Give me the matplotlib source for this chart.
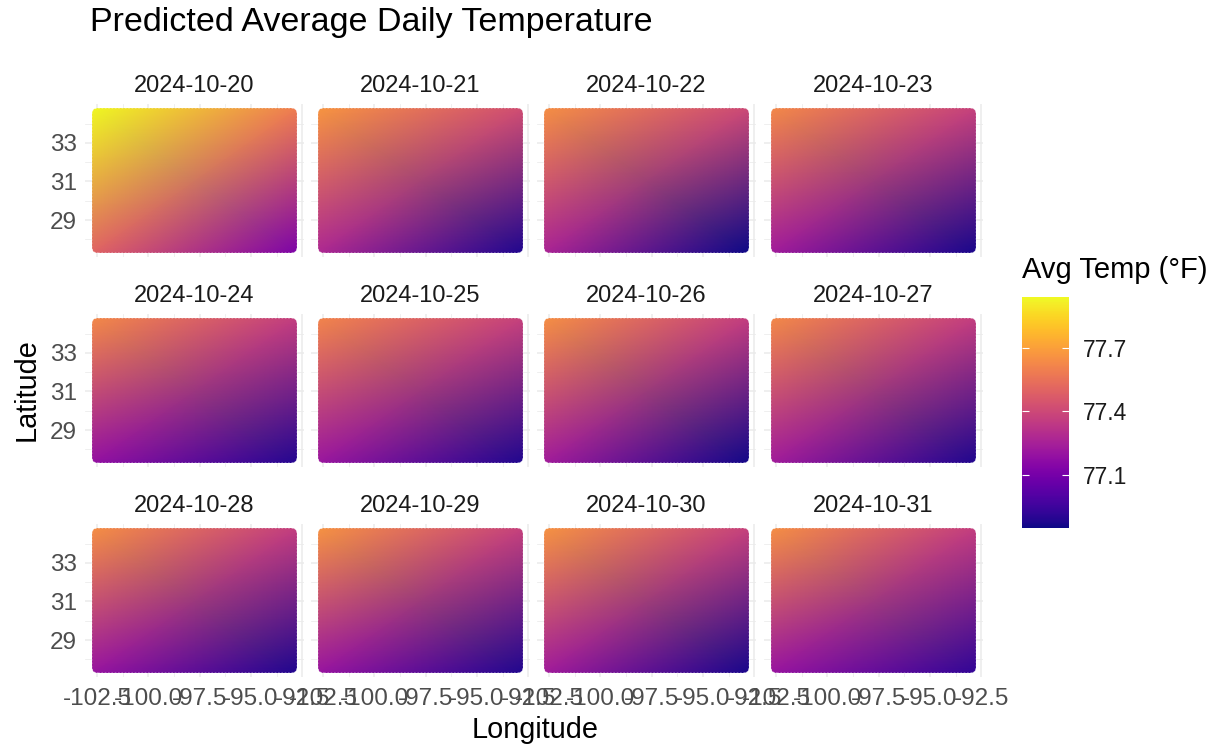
import numpy as np
import matplotlib
matplotlib.use("Agg")
import matplotlib.pyplot as plt
from matplotlib.patches import FancyBboxPatch
from matplotlib.colors import Normalize

plt.rcParams['font.family'] = ['Liberation Sans', 'DejaVu Sans']

# facet labels
dates = ['2024-10-20', '2024-10-21', '2024-10-22', '2024-10-23',
         '2024-10-24', '2024-10-25', '2024-10-26', '2024-10-27',
         '2024-10-28', '2024-10-29', '2024-10-30', '2024-10-31']

# predicted avg temp (F) at the corners of the grid, per day
temp_nw = [77.94, 77.67, 77.65, 77.63, 77.63, 77.62, 77.65, 77.63, 77.65, 77.66, 77.66, 77.65]
temp_ne = [77.59, 77.42, 77.40, 77.37, 77.36, 77.37, 77.36, 77.36, 77.36, 77.37, 77.37, 77.36]
temp_sw = [77.50, 77.28, 77.26, 77.23, 77.19, 77.21, 77.23, 77.23, 77.20, 77.20, 77.23, 77.20]
temp_se = [77.12, 76.88, 76.85, 76.87, 76.89, 76.88, 76.86, 76.88, 76.88, 76.88, 76.87, 76.92]

lon_range = [-102.6, -92.9]
lat_range = [27.45, 34.65]
lon_ticks = [-102.5, -100.0, -97.5, -95.0, -92.5]
lon_minor = [-101.25, -98.75, -96.25, -93.75]
lat_ticks = [29, 31, 33]
lat_minor = [28, 30, 32, 34]
cbar_ticks = [77.1, 77.4, 77.7]
temp_lim = [76.85, 77.94]

W, H = 1222, 749
fig = plt.figure(figsize=(W / 100, H / 100), dpi=100)
fig.patch.set_facecolor('white')


def px_axes(x0, y0, w, h):
    return fig.add_axes([x0 / W, 1 - (y0 + h) / H, w / W, h / H])


col_left = [85, 311, 537, 764]
row_top = [104, 314, 524]
pw, ph = 219, 153
norm = Normalize(temp_lim[0], temp_lim[1])
cmap = plt.get_cmap('plasma')

# 5% expansion like ggplot
dx = 0.05 * (lon_range[1] - lon_range[0])
dy = 0.05 * (lat_range[1] - lat_range[0])
r = 0.15  # point radius in degrees

for i, d in enumerate(dates):
    row, col = divmod(i, 4)
    ax = px_axes(col_left[col], row_top[row], pw, ph)
    ax.set_xlim(lon_range[0] - dx, lon_range[1] + dx)
    ax.set_ylim(lat_range[0] - dy, lat_range[1] + dy)

    X = np.array([[lon_range[0] - r, lon_range[1] + r]] * 2)
    Y = np.array([[lat_range[0] - r] * 2, [lat_range[1] + r] * 2])
    Z = np.array([[temp_sw[i], temp_se[i]], [temp_nw[i], temp_ne[i]]])
    mesh = ax.pcolormesh(X, Y, Z, shading='gouraud', cmap=cmap, norm=norm, zorder=2)

    box = FancyBboxPatch((lon_range[0] - r, lat_range[0] - r),
                         lon_range[1] - lon_range[0] + 2 * r,
                         lat_range[1] - lat_range[0] + 2 * r,
                         boxstyle='round,pad=0,rounding_size=0.3',
                         transform=ax.transData, facecolor='none',
                         edgecolor='white', linewidth=0.6, linestyle=(0, (2, 2)),
                         alpha=0.6, zorder=3)
    ax.add_patch(box)
    mesh.set_clip_path(box)

    ax.set_xticks(lon_ticks)
    ax.set_xticks(lon_minor, minor=True)
    ax.set_yticks(lat_ticks)
    ax.set_yticks(lat_minor, minor=True)
    ax.grid(which='major', color='#ebebeb', linewidth=1.1, zorder=0)
    ax.grid(which='minor', color='#ebebeb', linewidth=0.55, zorder=0)
    ax.set_axisbelow(True)
    for s in ax.spines.values():
        s.set_visible(False)
    ax.tick_params(which='both', length=0, labelsize=17.5, labelcolor='#4d4d4d')
    ax.tick_params(axis='x', pad=8)
    ax.tick_params(axis='y', pad=6)
    if row == 2:
        ax.set_xticklabels(['-102.5', '-100.0', '-97.5', '-95.0', '-92.5'])
    else:
        ax.set_xticklabels([])
    if col == 0:
        ax.set_yticklabels([str(t) for t in lat_ticks])
    else:
        ax.set_yticklabels([])
    ax.set_title(d, fontsize=17, color='#1a1a1a', pad=9)

fig.text(90 / W, 1 - 23 / H, 'Predicted Average Daily Temperature',
         fontsize=24.5, ha='left', va='center', color='black')
fig.text(535 / W, 1 - 730 / H, 'Longitude', fontsize=20.8, ha='center', va='center')
fig.text(27 / W, 1 - 390 / H, 'Latitude', fontsize=20.8, ha='center', va='center',
         rotation=90)

# colour bar
cax = px_axes(1022, 297, 47, 231)
sm = plt.cm.ScalarMappable(norm=norm, cmap=cmap)
cb = fig.colorbar(sm, cax=cax, ticks=cbar_ticks)
cb.outline.set_visible(False)
cax.tick_params(axis='y', direction='in', length=5, width=0.8, color='white',
                left=True, right=True, labelleft=False, labelright=True,
                labelsize=16.5, labelcolor='#1a1a1a', pad=10)
fig.text(1022 / W, 1 - 270 / H, 'Avg Temp (°F)', fontsize=21, ha='left', va='center')

fig.savefig('out.png', dpi=100)
